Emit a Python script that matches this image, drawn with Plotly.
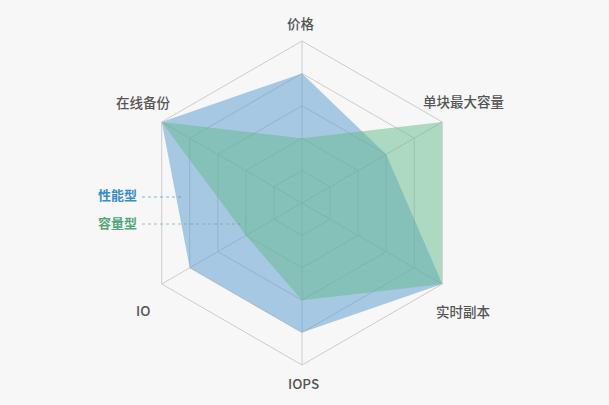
import plotly.graph_objects as go

categories = ['价格', '单块最大容量', '实时副本', 'IOPS', 'IO', '在线备份']
performance = [0.8, 0.6, 1.0, 0.8, 0.8, 1.0]
capacity = [0.4, 1.0, 1.0, 0.6, 0.4, 1.0]
series_names = ['性能型', '容量型']

bg = '#f7f7f7'
font_family = 'Noto Sans CJK SC, Noto Sans, sans-serif'

fig = go.Figure()

# close the polygons by repeating the first point
fig.add_trace(go.Scatterpolar(
    r=performance + performance[:1],
    theta=categories + categories[:1],
    name=series_names[0],
    fill='toself',
    fillcolor='rgba(88,154,205,0.5)',
    line=dict(width=0, color='rgba(88,154,205,0.5)'),
    mode='lines',
    hoverinfo='skip',
))
fig.add_trace(go.Scatterpolar(
    r=capacity + capacity[:1],
    theta=categories + categories[:1],
    name=series_names[1],
    fill='toself',
    fillcolor='rgba(100,186,142,0.5)',
    line=dict(width=0, color='rgba(100,186,142,0.5)'),
    mode='lines',
    hoverinfo='skip',
))

W, H = 609, 405
cx, cy, R = 302, 203, 162

fig.update_layout(
    width=W, height=H,
    margin=dict(l=0, r=0, t=0, b=0),
    paper_bgcolor=bg,
    plot_bgcolor=bg,
    showlegend=False,
    font=dict(family=font_family, size=13.5, color='#555'),
    polar=dict(
        domain=dict(x=[(cx - R) / W, (cx + R) / W],
                    y=[(H - cy - R) / H, (H - cy + R) / H]),
        bgcolor=bg,
        gridshape='linear',
        radialaxis=dict(
            range=[0, 1],
            tickvals=[0.2, 0.4, 0.6, 0.8, 1.0],
            showticklabels=False,
            ticks='',
            showline=False,
            gridcolor='#cccccc',
            gridwidth=1,
        ),
        angularaxis=dict(
            direction='clockwise',
            rotation=90,
            categoryorder='array',
            categoryarray=categories,
            ticks='',
            showticklabels=False,
            linecolor='#cccccc',
            gridcolor='#cccccc',
        ),
    ),
)

# indicator names, placed like the original (pixel centres)
name_pos = [(301, 23), (463, 101), (463, 311), (303, 383), (143, 310), (143, 102)]
for cat, (px, py) in zip(categories, name_pos):
    fig.add_annotation(
        x=px / W, y=1 - py / H, xref='paper', yref='paper',
        text=cat, showarrow=False, xanchor='center', yanchor='middle',
        font=dict(size=13.5, color='#555', weight=500),
    )

# series labels with dotted leader lines
label_colors = ['#3b8cc6', '#52a878']
label_y = [195, 222]
line_end = [183, 243]
for name, col, yy, xe in zip(series_names, label_colors, label_y, line_end):
    fig.add_annotation(
        x=139 / W, y=1 - yy / H, xref='paper', yref='paper',
        text='<b>' + name + '</b>', showarrow=False,
        xanchor='right', yanchor='middle',
        font=dict(size=13, color=col),
    )
    fig.add_shape(
        type='line', xref='paper', yref='paper',
        x0=142 / W, x1=xe / W, y0=1 - (yy + 2) / H, y1=1 - (yy + 2) / H,
        line=dict(color=col, width=1, dash='dot'),
        opacity=0.6,
    )

fig.write_html('out.html', config={'displayModeBar': False},
               post_script="document.body.style.margin='0';")
